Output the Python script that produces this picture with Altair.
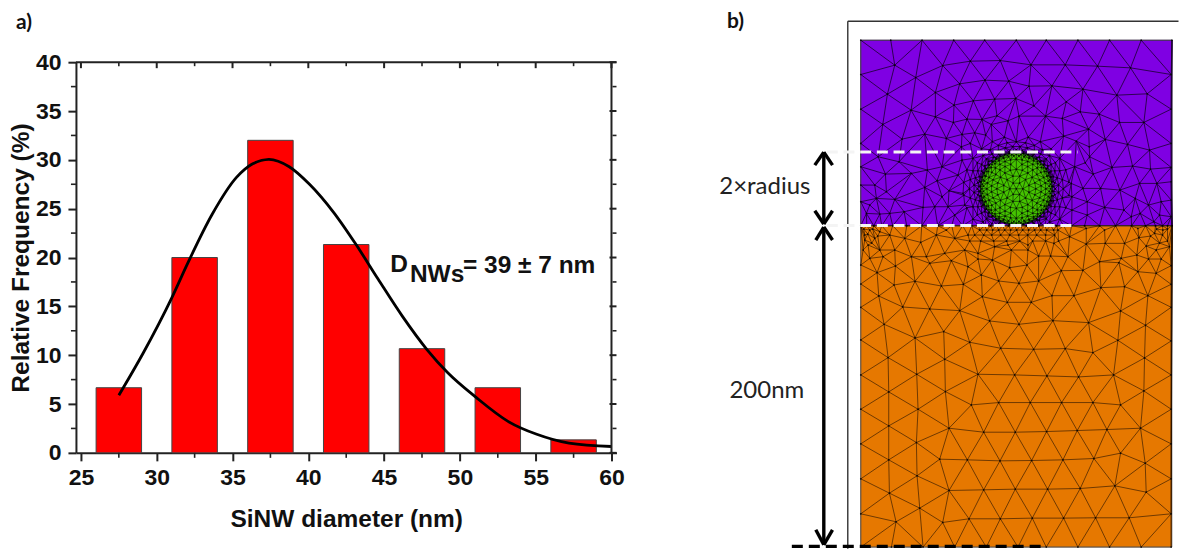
import altair as alt
import pandas as pd

# ---------- panel a data ----------
bin_start = [26, 31, 36, 41, 46, 51, 56]
bin_end = [29, 34, 39, 44, 49, 54, 59]
frequency = [6.67, 20, 32, 21.33, 10.67, 6.67, 1.33]
curve_x = [27.5, 29.1, 31.0, 32.04, 33.65, 35.26, 36.33, 37.4, 38.74, 40.08, 41.68, 43.16, 44.6, 46.2, 47.84,
           49.2, 51.05, 53.2, 55.07, 57.2, 60]
curve_y = [5.9, 10.2, 15.9, 19.4, 24.4, 28.2, 29.6, 30.05, 29.3, 27.5, 24.6, 21.3, 17.8, 14, 10.55,
           8.2, 5.7, 3.2, 1.9, 1.0, 0.65]
x_major = [25, 30, 35, 40, 45, 50, 55, 60]
x_minor = [27.5, 32.5, 37.5, 42.5, 47.5, 52.5, 57.5]
y_major = [0, 5, 10, 15, 20, 25, 30, 35, 40]
y_minor = [2.5, 7.5, 12.5, 17.5, 22.5, 27.5, 32.5, 37.5]

purple_tiles = [
    ((855, 35), [(108,15),(202,15),(297,15),(390,15),(485,15),(18,118),(18,222),(18,325),(120,90),(183,127),
                 (98,177),(169,225),(84,268),(142,312),(210,297),(242,245),(242,172),(264,91),(315,146),(298,210),
                 (347,78),(391,135),(356,197),(437,76),(462,138),(420,192),(337,252),(382,253),(427,242),(296,262),
                 (275,310),(322,298),(360,293),(393,300),(410,268),(460,257),(347,325),(320,335)]),
    ((1015, 35), [(95,15),(190,15),(285,15),(380,15),(470,118),(470,222),(470,325),(49,89),(152,89),(249,93),
                  (348,98),(43,153),(112,152),(205,162),(307,180),(398,176),(58,212),(155,200),(197,230),(254,237),
                  (315,262),(388,262),(3,190),(13,243),(93,243),(143,250),(222,282),(272,313),(339,328),(405,345),
                  (147,303),(185,318),(224,335)]),
    ((855, 150), [(18,50),(18,105),(18,155),(70,20),(133,35),(92,72),(60,105),(65,145),(120,148),(95,125),(170,70),
                  (218,60),(210,112),(262,50),(247,92),(283,122),(322,30),(310,75),(325,130),(262,140),(240,170),
                  (205,172),(148,185),(105,190),(75,192),(35,190),(45,165),(280,170),(330,165),(300,195)]),
    ((1015, 150), [(212,38),(292,52),(354,48),(404,5),(408,57),(470,52),(236,72),(180,50),(170,100),(205,115),
                   (258,115),(316,120),(375,100),(427,100),(470,95),(172,140),(218,155),(270,172),(328,180),(362,145),
                   (402,165),(440,155),(470,150),(377,190),(218,195),(172,180),(435,195),(470,200),(418,215),(225,20),
                   (350,200)]),
]
orange_tiles = [
    ((855, 150), [(20,240),(30,255),(45,240),(60,265),(40,285),(75,245),(105,255),(150,265),(198,277),(245,255),
                  (300,265),(340,255),(385,270),(430,255),(460,285),(120,300),(75,300),(45,325),(25,300),(170,320),
                  (215,320),(270,310),(330,300),(370,310),(420,290),(470,300),(275,240)]),
    ((1015, 150), [(215,282),(272,280),(330,280),(373,263),(420,250),(445,240),(460,265),(425,300),(395,288),(320,325),
                   (165,260),(118,280),(70,262),(40,285),(40,300),(108,318),(160,320),(215,235),(370,235),(270,240),
                   (130,240),(465,290)]),
    ((855, 255), [(45,7),(85,5),(165,7),(225,25),(290,17),(340,35),(370,12),(413,15),(465,38),(122,33),(67,53),(18,30),
                  (18,87),(181,79),(118,90),(260,93),(326,88),(380,60),(432,78),(72,123),(18,157),(144,156),(225,162),
                  (315,167),(383,125),(458,142),(88,208),(181,249),(267,230),(345,262),(405,198),(493,208),(18,255),
                  (100,308),(270,313),(438,280),(18,360),(186,358),(370,358),(480,360),(102,411),(272,410),(432,443)]),
    ((1015, 255), [(37,30),(72,3),(108,5),(140,47),(205,46),(255,20),(313,23),(367,0),(402,12),(440,12),(470,32),
                   (425,55),(370,50),(13,85),(72,78),(112,122),(178,122),(259,98),(330,95),(400,122),(470,88),(50,142),
                   (470,157),(318,168),(115,197),(222,203),(15,208),(393,211),(470,258),(310,256),(152,281),(57,283),
                   (235,293),(390,309),(297,360),(470,360),(97,363),(192,366),(0,362),(388,408),(47,443),(141,443),
                   (235,443)]),
    ((855, 400), [(18,28),(102,78),(190,28),(283,85),(350,15),(387,97),(482,97),(18,132),(185,128),(102,180),
                  (255,178),(338,180),(436,183),(18,237),(187,228),(283,272),(387,270),(482,268),(104,280),(195,325),
                  (18,342),(124,366),(264,368),(343,357),(437,357),(18,442),(110,442),(205,442),(300,442),(395,442),
                  (490,442)]),
    ((1015, 400), [(318,15),(470,28),(378,85),(470,132),(3,95),(96,95),(188,92),(277,89),(318,160),(392,190),(470,237),
                   (51,182),(145,180),(238,176),(2,268),(99,268),(197,266),(301,258),(395,277),(470,342),(53,355),
                   (147,355),(243,354),(344,354),(95,442),(190,442),(285,442),(380,442),(470,442)]),
]
interface_x = [861,867,874,882,893,907,922,938,952,963,972,979,985,991,997,1003,1009,1015,1021,1027,1033,1039,
               1045,1051,1057,1064,1072,1085,1100,1116,1132,1146,1156,1163,1168,1172.5]
orange_fine = [(980,230),(987,230),(993,230),(999,230),(1005,230),(1011,230),(1017,230),(1023,230),(1029,230),
               (1035,230),(1041,230),(1047,230),(1054,230),(975,235),(984,235),(992,235),(1001,235),(1010,235),
               (1019,235),(1028,235),(1037,235),(1046,235),(1055,235),(970,241),(981,241),(994,241),(1007,241),
               (1020,241),(1033,241),(1046,241),(1059,241),(864,229),(868,234),(873,229),(878,236),(865,240),
               (872,243),(1168,229),(1163,235),(1157,229),(1151,236),(1168,241),(1160,243)]
# dense nodes round the wire, offsets from its centre for one quadrant
wire_centre = (1016.7, 188.7)
wire_radius = 36
wire_edge = [(35.9,2.4),(35.3,7),(34.1,11.6),(32.3,15.9),(29.9,20),(27.1,23.7),(23.7,27.1),(20,29.9),(15.9,32.3),
             (11.6,34.1),(7,35.3),(2.4,35.9)]
outer_nodes = [(37.4,2.5),(36.8,7.3),(35.5,12),(33.6,16.6),(31.2,20.8),(28.2,24.7),(24.7,28.2),(20.8,31.2),(16.6,33.6),
               (12,35.5),(7.3,36.8),(2.5,37.4),
               (39,0),(38.5,6.1),(37.1,12.1),(34.7,17.7),(31.6,22.9),(27.6,27.6),(22.9,31.6),(17.7,34.7),(12.1,37.1),
               (6.1,38.5),(0,39),(42.3,3.7),(41,11),(38.5,18),(34.8,24.4),(30,30),(24.4,34.8),(18,38.5),(11,41),
               (3.7,42.3),(47,0),(46.1,9.2),(43.4,18),(39.1,26.1),(33.2,33.2),(26.1,39.1),(18,43.4),(9.2,46.1),(0,47),
               (52.6,6.5),(49.5,19),(43.4,30.4),(34.8,40),(24,47.2),(11.9,51.6)]
inner_nodes = [(34.5,0),(34.2,4.5),(33.3,8.9),(31.9,13.2),(29.9,17.3),(27.4,21),(24.4,24.4),(21,27.4),(17.3,29.9),
               (13.2,31.9),(8.9,33.3),(4.5,34.2),(0,34.5),
               (32.9,2.6),(32.1,7.7),(30.5,12.6),(28.1,17.3),(25.1,21.4),(21.4,25.1),(17.3,28.1),(12.6,30.5),(7.7,32.1),
               (2.6,32.9),(29.5,0),(28.9,5.8),(27.3,11.3),(24.5,16.4),(20.9,20.9),(16.4,24.5),(11.3,27.3),(5.8,28.9),
               (0,29.5),(24.8,3),(23.3,9),(20.5,14.3),(16.4,18.9),(11.3,22.3),(5.6,24.4),(19.5,0),(18.5,6),(15.8,11.5),
               (11.5,15.8),(6,18.5),(0,19.5),(12.6,3.4),(9.2,9.2),(3.4,12.6),(6.5,0),(3.2,5.6),(0,0)]


def from_tiles(tiles):
    out = []
    for (ox, oy), pts in tiles:
        out += [(ox + a / 3, oy + b / 3) for a, b in pts]
    return out


def spread(quadrant):
    cx, cy = wire_centre
    return sorted({(cx + sx * dx, cy + sy * dy) for dx, dy in quadrant for sx in (1, -1) for sy in (1, -1)})


def unique(pts, gap=2.2):
    kept = []
    for p in pts:
        if all((p[0]-q[0])**2 + (p[1]-q[1])**2 > gap*gap for q in kept):
            kept.append(p)
    return kept


def triangulate(pts):
    # Bowyer-Watson over the node readings
    P = [(x + 1e-5 * (i * 7 % 13), y + 1e-5 * (i * 11 % 17)) for i, (x, y) in enumerate(pts)]
    n = len(P)
    P += [(-1e5, -1e5), (1e5, -1e5), (0, 1e5)]
    tris = {(n, n + 1, n + 2)}

    def in_circle(t, p):
        ax, ay = P[t[0]][0]-p[0], P[t[0]][1]-p[1]
        bx, by = P[t[1]][0]-p[0], P[t[1]][1]-p[1]
        cx, cy = P[t[2]][0]-p[0], P[t[2]][1]-p[1]
        d = ((ax*ax+ay*ay)*(bx*cy-cx*by) - (bx*bx+by*by)*(ax*cy-cx*ay) + (cx*cx+cy*cy)*(ax*by-bx*ay))
        o = (P[t[1]][0]-P[t[0]][0])*(P[t[2]][1]-P[t[0]][1]) - (P[t[1]][1]-P[t[0]][1])*(P[t[2]][0]-P[t[0]][0])
        return d > 0 if o > 0 else d < 0

    for i in range(n):
        bad = [t for t in tris if in_circle(t, P[i])]
        count = {}
        for t in bad:
            for e in ((t[0], t[1]), (t[1], t[2]), (t[2], t[0])):
                k = tuple(sorted(e))
                count[k] = count.get(k, 0) + 1
        tris.difference_update(bad)
        for (a, b), c in count.items():
            if c == 1:
                tris.add((a, b, i))
    return [t for t in tris if max(t) < n]


def edges_of(pts, keep=lambda c: True):
    seen = set()
    rows = []
    for t in triangulate(pts):
        c = (sum(pts[i][0] for i in t) / 3, sum(pts[i][1] for i in t) / 3)
        if not keep(c):
            continue
        for a, b in ((t[0], t[1]), (t[1], t[2]), (t[2], t[0])):
            k = (min(a, b), max(a, b))
            if k not in seen:
                seen.add(k)
                rows.append({"x": pts[a][0], "y": pts[a][1], "x2": pts[b][0], "y2": pts[b][1]})
    return pd.DataFrame(rows)


def outside_wire(c):
    return (c[0]-wire_centre[0])**2 + (c[1]-wire_centre[1])**2 > wire_radius**2


top_y, mid_y, bot_y, left_x, right_x = 40, 225.7, 547.3, 861, 1172.5
purple_read = unique(from_tiles(purple_tiles) + [(left_x, top_y), (right_x, top_y)])
purple_nodes = unique(spread(wire_edge) + [p for p in spread(outer_nodes) if p[1] < mid_y - 1.5]
                      + [(x, mid_y) for x in interface_x] + purple_read, gap=1.2)
orange_nodes = unique([(x, mid_y) for x in interface_x] + orange_fine + from_tiles(orange_tiles)
                      + [(right_x, bot_y), (left_x, bot_y)], gap=3)
green_nodes = unique(spread(wire_edge) + spread(inner_nodes), gap=1.0)

purple_edges = edges_of(purple_nodes, outside_wire)
orange_edges = edges_of(orange_nodes)
green_edges = edges_of(green_nodes)
node_table = pd.DataFrame(purple_nodes + orange_nodes + green_nodes, columns=["x", "y"])

# ---------- panel a ----------
bars = pd.DataFrame({"a": bin_start, "b": bin_end, "f": frequency})
curve = pd.DataFrame({"x": curve_x, "y": curve_y})
xs = alt.Scale(domain=[25, 60], nice=False, zero=False)
ys = alt.Scale(domain=[0, 40], nice=False)
BOLD = "Liberation Sans"
AX = "#222222"

base_axes = alt.Chart(bars).mark_bar(opacity=0).encode(
    x=alt.X("a:Q", scale=xs, title="SiNW diameter (nm)",
            axis=alt.Axis(values=x_major, grid=False, tickSize=8, tickWidth=2, tickColor=AX, domainColor=AX, domainWidth=2,
                          labelFont=BOLD, labelFontWeight="bold", labelFontSize=23, labelColor="#111", labelPadding=6,
                          labelOverlap=False, labelFlush=False, titleFont=BOLD, titleFontWeight="bold", titleFontSize=24.5, titleColor="#111",
                          titlePadding=18, format="d")),
    y=alt.Y("f:Q", scale=ys, title="Relative Frequency (%)",
            axis=alt.Axis(values=y_major, grid=False, tickSize=8, tickWidth=2, tickColor=AX, domainColor=AX, domainWidth=2,
                          labelFont=BOLD, labelFontWeight="bold", labelFontSize=23, labelColor="#111", labelPadding=7,
                          labelOverlap=False, titleFont=BOLD, titleFontWeight="bold", titleFontSize=24.5, titleColor="#111",
                          titlePadding=1.5, format="d")),
)
bar_marks = alt.Chart(bars).mark_rect(color="#ff0000", stroke="#444444", strokeWidth=1).encode(
    x=alt.X("a:Q", scale=xs), x2="b:Q", y=alt.Y("f:Q", scale=ys), y2=alt.datum(0))
line_mark = alt.Chart(curve).mark_line(color="black", strokeWidth=2.8, interpolate="monotone", clip=True).encode(
    x=alt.X("x:Q", scale=xs), y=alt.Y("y:Q", scale=ys))


def ticks_x(vals, y1, y2, w):
    return alt.Chart(pd.DataFrame({"v": vals})).mark_rule(color=AX, strokeWidth=w).encode(
        x=alt.X("v:Q", scale=xs), y=alt.value(y1), y2=alt.value(y2))


def ticks_y(vals, x1, x2, w):
    return alt.Chart(pd.DataFrame({"v": vals})).mark_rule(color=AX, strokeWidth=w).encode(
        y=alt.Y("v:Q", scale=ys), x=alt.value(x1), x2=alt.value(x2))


PW, PH = 541, 391
a_parts = [base_axes, bar_marks, line_mark,
           ticks_x(x_major, 0, 6, 2), ticks_x(x_minor, 0, 4, 1.6),
           ticks_x(x_minor, PH, PH + 5, 1.6),
           ticks_y(y_major, PW - 7, PW, 2), ticks_y(y_minor, PW - 4, PW, 1.6),
           ticks_y(y_minor, -5, 0, 1.6),
           ticks_x([60], 0, PH, 2),
           ticks_y([40], 0, PW, 2)]

note = pd.DataFrame({"x": [45.4, 46.7, 50.2], "y": [19.2, 18.2, 19.1], "t": ["D", "NWs", "= 39 ± 7 nm"]})
note_mark = alt.Chart(note).mark_text(font=BOLD, fontWeight="bold", fontSize=24.5, align="left", baseline="middle", color="#111").encode(
    x=alt.X("x:Q", scale=xs), y=alt.Y("y:Q", scale=ys), text="t:N")
a_label = alt.Chart(pd.DataFrame({"t": ["a)"]})).mark_text(font="Lato", fontWeight="bold", fontSize=21, align="left", baseline="middle", color="#111").encode(
    x=alt.value(-60), y=alt.value(-39.5), text="t:N")
top_spacer = alt.Chart(pd.DataFrame({"v": [25]})).mark_rule(opacity=0).encode(
    x=alt.X("v:Q", scale=xs), y=alt.value(-54), y2=alt.value(0))

panel_a = alt.layer(*a_parts, note_mark, a_label, top_spacer).properties(width=PW, height=PH)

# ---------- panel b ----------
bx = alt.Scale(domain=[715, 1179], nice=False, zero=False)
by = alt.Scale(domain=[453, 62], nice=False, zero=False)
BW, BH = 464, PH
X = alt.X("x:Q", scale=bx, axis=None)
Y = alt.Y("y:Q", scale=by, axis=None)


def rects(x0, x1, y0, y1, fill):
    return alt.Chart(pd.DataFrame({"x": [x0], "x2": [x1], "y": [y0], "y2": [y1]})).mark_rect(color=fill, stroke="#8a8a8a", strokeWidth=0.8, clip=False).encode(
        x=X, x2="x2:Q", y=Y, y2="y2:Q")


def edge_layer(df, color, w, op):
    return alt.Chart(df).mark_rule(color=color, strokeWidth=w, opacity=op, clip=False).encode(x=X, x2="x2:Q", y=Y, y2="y2:Q")


def segs(rows, color, w, **kw):
    df = pd.DataFrame(rows, columns=["x", "y", "x2", "y2"])
    return alt.Chart(df).mark_rule(color=color, strokeWidth=w, clip=False, **kw).encode(x=X, x2="x2:Q", y=Y, y2="y2:Q")


wire = alt.Chart(pd.DataFrame({"x": [wire_centre[0]], "y": [wire_centre[1]]})).mark_circle(
    size=5184, color="#45c400", opacity=1, stroke="#0f6a50", strokeWidth=1).encode(x=X, y=Y)
dots = alt.Chart(node_table).mark_circle(size=3, color="black", opacity=0.8).encode(x=X, y=Y)

frame_rows = [(848, 21, 1179, 21), (848, 21, 848, 549)]
white_rows = [(827, 152, 1078, 152), (827, 225.5, 1076, 225.5)]
black_rows = [(792, 546.7, 1046, 546.7)]
arrow_rows = [(824, 152, 824, 224), (815, 165, 824, 152), (832.7, 165, 824, 152), (815, 210.7, 824, 224), (832.7, 210.7, 824, 224),
              (824, 227, 824, 545), (816, 240, 824, 227), (832.7, 240, 824, 227), (816, 530, 824, 545), (832.7, 530, 824, 545)]

texts = pd.DataFrame({"x": [765, 767], "y": [187, 391], "t": ["2×radius", "200nm"]})
text_mark = alt.Chart(texts).mark_text(font="Lato", fontSize=24, align="center", baseline="middle", color="#222").encode(x=X, y=Y, text="t:N")
b_label = alt.Chart(pd.DataFrame({"x": [727], "y": [22], "t": ["b)"]})).mark_text(
    font="Lato", fontWeight="bold", fontSize=21, align="left", baseline="middle", color="#111").encode(x=X, y=Y, text="t:N")

panel_b = alt.layer(
    rects(left_x, right_x, top_y, mid_y, "#7f00e3"),
    rects(left_x, right_x, mid_y, bot_y, "#e67800"),
    wire,
    edge_layer(purple_edges, "#1a0030", 0.85, 0.95),
    edge_layer(orange_edges, "#2a1500", 0.85, 0.75),
    edge_layer(green_edges, "#0c2a00", 0.7, 0.9),
    dots,
    segs(frame_rows, "#333333", 1.4),
    segs(white_rows, "#f4f4f4", 3, strokeDash=[11, 5.7]),
    segs(arrow_rows, "black", 3.4),
    segs(black_rows, "black", 3.2, strokeDash=[11, 6]),
    text_mark, b_label,
).properties(width=BW, height=BH)

chart = alt.hconcat(panel_a, panel_b, spacing=90.5).properties(padding=0).configure_view(stroke=None)
chart.save("out.html", embed_options={"renderer": "svg", "actions": False})
